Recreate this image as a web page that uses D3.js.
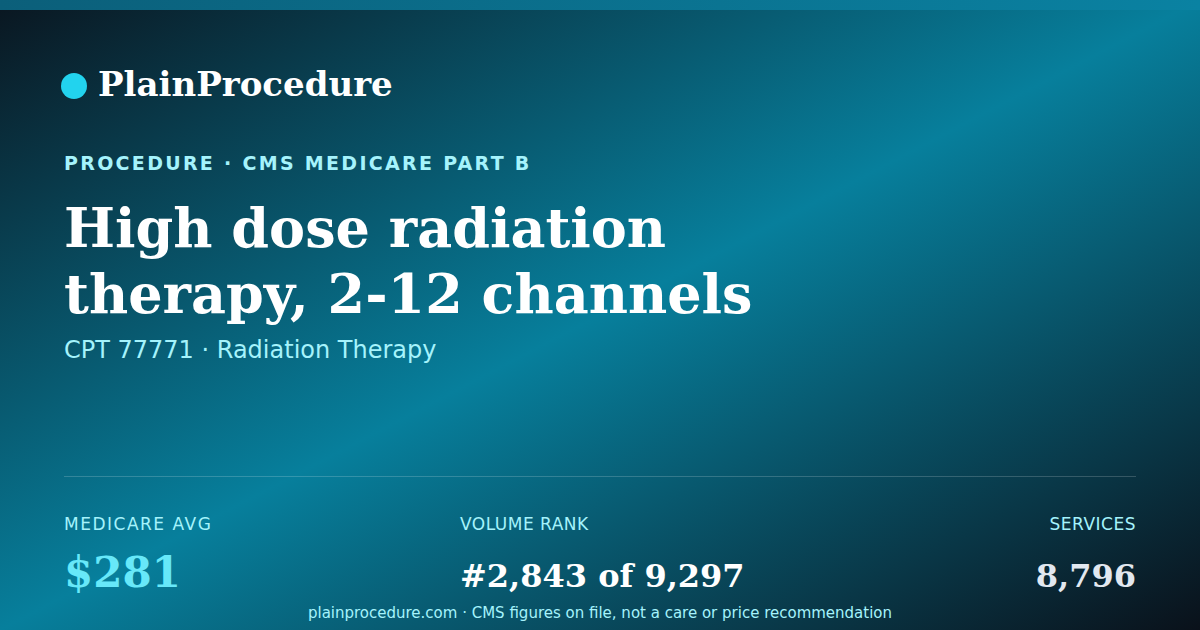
<!DOCTYPE html>
<html><head><meta charset="utf-8">
<script src="https://cdn.jsdelivr.net/npm/d3@7"></script>
<style>html,body{margin:0;padding:0;background:#0a1620;}svg{display:block}</style>
</head><body>
<svg id="c" width="1200" height="630"></svg>
<script>
const brand = "PlainProcedure";
const eyebrow = "PROCEDURE · CMS MEDICARE PART B";
const titleLines = ["High dose radiation", "therapy, 2-12 channels"];
const subtitle = "CPT 77771 · Radiation Therapy";
const statLabels = ["MEDICARE AVG", "VOLUME RANK", "SERVICES"];
const statValues = ["$281", "#2,843 of 9,297", "8,796"];
const footer = "plainprocedure.com · CMS figures on file, not a care or price recommendation";

const svg = d3.select("#c");
const W = 1200, H = 630;
const defs = svg.append("defs");
const g = defs.append("linearGradient").attr("id","bg").attr("x1","0").attr("y1","0").attr("x2","1").attr("y2","1");
[["0%","#0a1620"],["50%","#077f9c"],["100%","#0a111a"]].forEach(s=>g.append("stop").attr("offset",s[0]).attr("stop-color",s[1]));
svg.append("rect").attr("width",W).attr("height",H).attr("fill","url(#bg)");
const tb = defs.append("linearGradient").attr("id","tb").attr("x1","0").attr("x2","1");
[["0%","#0b5f7a"],["100%","#0a82a2"]].forEach(s=>tb.append("stop").attr("offset",s[0]).attr("stop-color",s[1]));
svg.append("rect").attr("width",W).attr("height",10).attr("fill","url(#tb)");

const serif = "'DejaVu Serif', serif", sans = "'DejaVu Sans', sans-serif";
svg.append("circle").attr("cx",74).attr("cy",86).attr("r",13).attr("fill","#22d3ee");
svg.append("text").attr("x",98).attr("y",96).attr("font-family",serif).attr("font-weight","bold").attr("font-size",34).attr("fill","#ffffff").text(brand);
svg.append("text").attr("x",64).attr("y",170).attr("font-family",sans).attr("font-weight","bold").attr("font-size",19).attr("letter-spacing",2.3).attr("fill","#a5f3fc").text(eyebrow);
svg.selectAll("text.t").data(titleLines).join("text").attr("class","t").attr("x",64).attr("y",(d,i)=>247+i*66)
  .attr("font-family",serif).attr("font-weight","bold").attr("font-size",54).attr("fill","#ffffff").text(d=>d);
svg.append("text").attr("x",64).attr("y",358).attr("font-family",sans).attr("font-size",24).attr("fill","#a5f3fc").text(subtitle);
svg.append("line").attr("x1",64).attr("x2",1136).attr("y1",476.5).attr("y2",476.5).attr("stroke","#ffffff").attr("stroke-opacity",0.18);

const xs = [64, 460, 1136], anchors = ["start","start","end"], ls = [1.5, 0.5, 0.5];
svg.selectAll("text.l").data(statLabels).join("text").attr("class","l").attr("x",(d,i)=>xs[i]).attr("y",530).attr("text-anchor",(d,i)=>anchors[i])
  .attr("font-family",sans).attr("font-size",17).attr("letter-spacing",(d,i)=>ls[i]).attr("fill","#a5f3fc").text(d=>d);
const vSizes=[42,32,32], vCols=["#67e8f9","#ffffff","#e2e8f0"];
svg.selectAll("text.v").data(statValues).join("text").attr("class","v").attr("x",(d,i)=>xs[i]).attr("y",587).attr("text-anchor",(d,i)=>anchors[i])
  .attr("font-family",serif).attr("font-weight","bold").attr("font-size",(d,i)=>vSizes[i]).attr("fill",(d,i)=>vCols[i]).text(d=>d);
svg.append("text").attr("x",600).attr("y",618).attr("text-anchor","middle").attr("font-family",sans).attr("font-size",15).attr("fill","#a5f3fc").text(footer);
</script>
</body></html>
